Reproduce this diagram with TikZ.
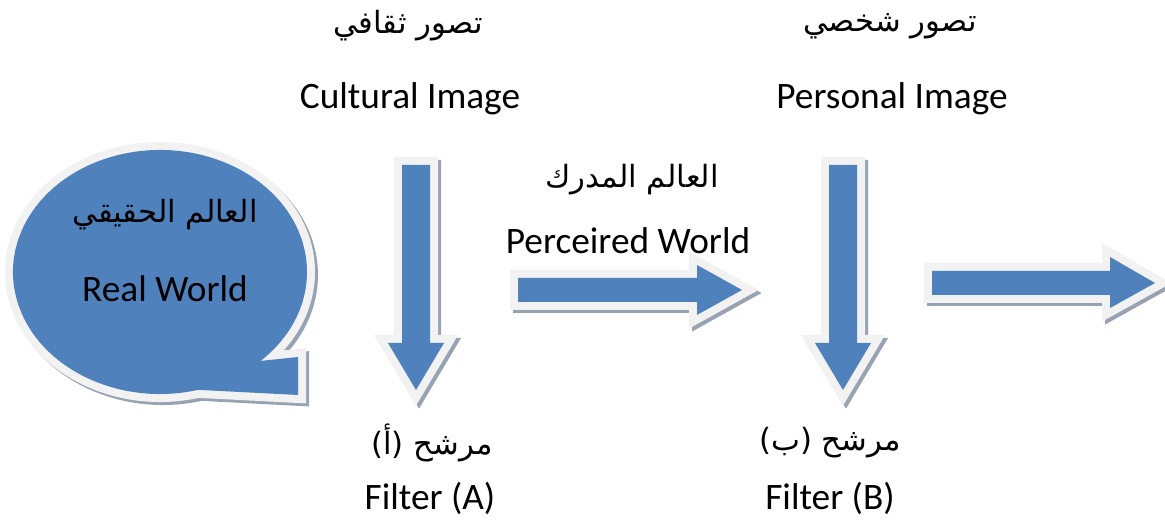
\documentclass[tikz,border=0pt]{standalone}
\usepackage{fontspec}
\setmainfont{Carlito}
\newfontfamily\arabicfont[Script=Arabic]{DejaVu Sans}
\TeXXeTstate=1
\definecolor{blu}{HTML}{4F81BD}
\definecolor{bord}{HTML}{F2F2F2}
\definecolor{shd}{HTML}{97A3B3}
\tikzset{
  shadowlayer/.style={fill=shd, draw=shd, line width=12pt, line join=miter, shift={(3,3)}},
  borderlayer/.style={fill=bord, draw=bord, line width=12pt, line join=miter},
  bluelayer/.style={fill=blu, draw=none},
  lat/.style={font=\fontsize{28}{32}\selectfont, inner sep=0pt},
  arb/.style={font=\arabicfont\fontsize{23}{27}\selectfont, inner sep=0pt},
}
\begin{document}
\begin{tikzpicture}[x=0.75pt,y=-0.75pt]
\useasboundingbox (0,0) rectangle (1165,523);
% shapes
\def\bubble{(160,272) ++(75:147 and 122) arc[start angle=75, end angle=406.8, x radius=147, y radius=122] -- (298,357) -- (298,395) -- cycle}
\def\arrA{(402,165) -- (430,165) -- (430,343) -- (444,343) -- (416,390) -- (388,343) -- (402,343) -- cycle}
\def\arrB{(829,165) -- (857,165) -- (857,343) -- (871,343) -- (843,390) -- (815,343) -- (829,343) -- cycle}
\def\arrC{(518,278) -- (697,278) -- (697,265) -- (742,290) -- (697,315) -- (697,302) -- (518,302) -- cycle}
\def\arrD{(932,271) -- (1110,271) -- (1110,257) -- (1155,283) -- (1110,308) -- (1110,295) -- (932,295) -- cycle}
\foreach \p in {\bubble,\arrA,\arrB,\arrC,\arrD}{
  \path[shadowlayer] \p;
}
\foreach \p in {\bubble,\arrA,\arrB,\arrC,\arrD}{
  \path[borderlayer] \p;
  \path[bluelayer] \p;
}
% texts
\node[arb] (ca) at (408,26) {\beginR تصور ثقافي\endR};
\node[lat] (ce) at (410,99) {Cultural Image};
\node[arb] (pa) at (890,26) {\beginR تصور شخصي\endR};
\node[lat] (pe) at (892,99) {Personal Image};
\node[arb] (wa) at (632,180) {\beginR العالم المدرك\endR};
\node[lat] (we) at (628,241) {Perceired World};
\node[arb] (ra) at (165,215) {\beginR العالم الحقيقي\endR};
\node[lat] (re) at (165,289) {Real World};
\node[arb] (fa) at (432,443) {\beginR مرشح (أ)\endR};
\node[lat] (fae) at (430,498) {Filter (A)};
\node[arb] (fb) at (830,443) {\beginR مرشح (ب)\endR};
\node[lat] (fbe) at (830,498) {Filter (B)};
\end{tikzpicture}
\end{document}
